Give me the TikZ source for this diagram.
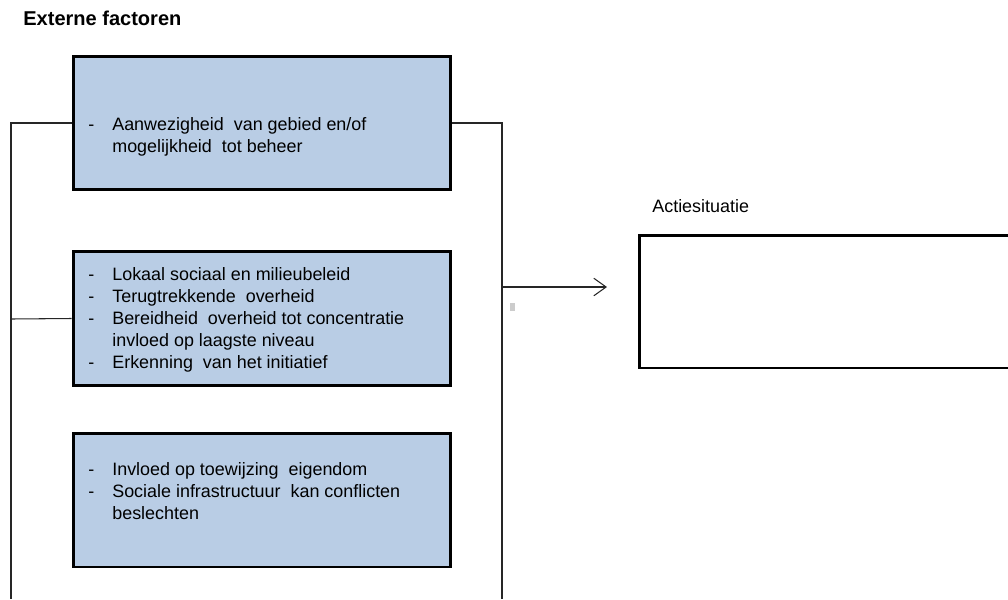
\documentclass[tikz,border=0pt]{standalone}
\usepackage{fontspec}
\setmainfont{Liberation Sans}
\usetikzlibrary{positioning}
\usetikzlibrary{arrows.meta}
\definecolor{factorblue}{HTML}{B9CDE5}

\tikzset{
  factor/.style={draw=black,line width=1.7pt,fill=factorblue,
    minimum width=7.56cm,minimum height=2.68cm},
  actie/.style={draw=black,line width=1.7pt,
    minimum width=7.5cm,minimum height=2.66cm},
  items/.style={anchor=base west,inner sep=0pt,align=left,
    font=\fontsize{10.2}{12.6}\selectfont},
  link/.style={line width=0.6pt,draw=black!85},
}
\newcommand{\dashlist}[1]{\begin{tabular}[t]{@{}p{0.48cm}@{}l@{}}#1\end{tabular}}

\begin{document}
\begin{tikzpicture}[x=0.02cm,y=-0.02cm]
\useasboundingbox (0,0) rectangle (1008,599);

\node[anchor=base west,inner sep=0pt,font=\fontsize{11.4}{13}\selectfont\bfseries] (titel) at (23,25) {Externe factoren};

\node[factor] (F1) at (262,123) {};
\node[factor] (F2) at (262,318.5) {};
\node[factor] (F3) at (262,500) {};
\node[actie] (A) at (827,301.5) {};
\node[items] (actielabel) at (652,212) {Actiesituatie};

\node[items] (T1) at (88,130) {\dashlist{%
- & Aanwezigheid\ \ van gebied\ en/of\\
 & mogelijkheid\ \ tot beheer}};
\node[items] (T2) at (88,280) {\dashlist{%
- & Lokaal\ sociaal en milieubeleid\\
- & Terugtrekkende\ \ overheid\\
- & Bereidheid\ \ overheid tot concentratie\\
 & invloed\ op laagste\ niveau\\
- & Erkenning\ \ van het initiatief}};
\node[items] (T3) at (88,475) {\dashlist{%
- & Invloed\ op toewijzing\ \ eigendom\\
- & Sociale infrastructuur\ \ kan conflicten\\
 & beslechten}};

% verbindingen
\coordinate (linksonder) at (11,599);
\coordinate (rechtsonder) at (502,599);
\coordinate (links2) at (11,319);
\coordinate (pijlstart) at (502,287);
\coordinate (pijleind) at (607,287);

\draw[link] (F1.west) -| (linksonder);
\draw[link] (links2) -- (F2.west);
\draw[link] (F1.east) -| (rechtsonder);
\draw[link,-{Straight Barb[length=7pt,width=10pt]}] (pijlstart) -- (pijleind);

\fill[black!20] (510,303) rectangle (515,311);
\end{tikzpicture}
\end{document}
